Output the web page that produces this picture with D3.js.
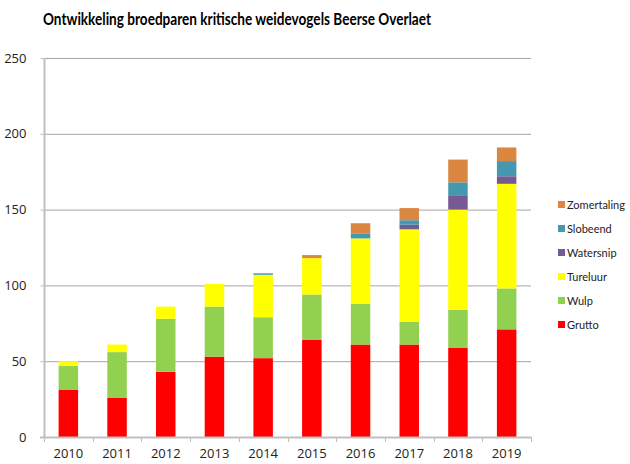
<!DOCTYPE html>
<html><head><meta charset="utf-8">
<script src="https://cdn.jsdelivr.net/npm/d3@7"></script>
<style>body{margin:0;background:#fff}svg{display:block}</style>
</head><body>
<svg id="c" width="630" height="464"></svg>
<script>
const years = ["2010","2011","2012","2013","2014","2015","2016","2017","2018","2019"];
const grutto     = [31, 26, 43, 53, 52, 64, 61, 61, 59, 71];
const wulp       = [16, 30, 35, 33, 27, 30, 27, 15, 25, 27];
const tureluur   = [ 3,  5,  8, 15, 28, 24, 43, 61, 66, 69];
const watersnip  = [ 0,  0,  0,  0,  0,  0,  0,  3,  9,  5];
const slobeend   = [ 0,  0,  0,  0,  1,  0,  3,  3,  9, 10];
const zomertaling= [ 0,  0,  0,  0,  0,  2,  7,  8, 15,  9];
const seriesNames = ["Grutto","Wulp","Tureluur","Watersnip","Slobeend","Zomertaling"];
const seriesColors = ["#FF0000","#92D050","#FFFF00","#775A94","#4499B1","#DC8741"];
const yTicks = [0,50,100,150,200,250];
const title = "Ontwikkeling broedparen kritische weidevogels Beerse Overlaet";

const seriesValues = [grutto, wulp, tureluur, watersnip, slobeend, zomertaling];
const rows = years.map((y,i)=>{const r={year:y}; seriesNames.forEach((s,j)=>r[s]=seriesValues[j][i]); return r;});
const stack = d3.stack().keys(seriesNames)(rows);

const svg = d3.select("#c");
const x0 = 44, x1 = 531, yTop = 58, yBot = 437;
const x = d3.scaleBand().domain(years).range([x0,x1]).paddingInner(0.6).paddingOuter(0.3);
const y = d3.scaleLinear().domain([0,250]).range([yBot,yTop]);

// gridlines
svg.append("g").selectAll("line").data(yTicks.filter(t=>t>0)).join("line")
  .attr("x1",x0).attr("x2",x1).attr("y1",d=>y(d)+0.5).attr("y2",d=>y(d)+0.5)
  .attr("stroke","#A6A6A6").attr("stroke-width",1);

// bars
svg.append("g").selectAll("g").data(stack).join("g")
  .attr("fill",(d,i)=>seriesColors[i])
  .selectAll("rect").data(d=>d).join("rect")
  .attr("x",d=>x(d.data.year)).attr("width",x.bandwidth())
  .attr("y",d=>y(d[1])).attr("height",d=>Math.max(0,y(d[0])-y(d[1])));

// y axis
const yAxis = d3.axisLeft(y).tickValues(yTicks).tickSize(4).tickPadding(8);
const gy = svg.append("g").attr("transform",`translate(${x0+0.5},0)`).call(yAxis);
gy.select(".domain").attr("stroke","#BFBFBF").attr("stroke-width",2).attr("d",`M0,${yTop}V${yBot}`);
gy.selectAll(".tick line").attr("stroke","#BFBFBF").attr("stroke-width",1);
gy.selectAll(".tick text").attr("font-family","Open Sans, sans-serif").attr("font-size",13).attr("fill","#222").attr("dx",-6);

// x axis
const xAxis = d3.axisBottom(x).tickSize(0).tickPadding(12);
const gx = svg.append("g").attr("transform",`translate(0,${yBot})`).call(xAxis);
gx.select(".domain").attr("stroke","#BFBFBF").attr("stroke-width",2).attr("d",`M${x0-4},0.5H${x1}`);
gx.selectAll(".tick text").attr("font-family","Open Sans, sans-serif").attr("font-size",13).attr("fill","#222");
// category boundary ticks
const bounds = d3.range(years.length+1).map(i=>x0 + i*(x1-x0)/years.length);
gx.append("g").selectAll("line").data(bounds).join("line")
  .attr("x1",d=>Math.round(d)+0.5).attr("x2",d=>Math.round(d)+0.5).attr("y1",0).attr("y2",5)
  .attr("stroke","#BFBFBF");

// title
svg.append("text").attr("x",43).attr("y",25).text(title)
  .attr("font-family","Lato, sans-serif").attr("font-weight","bold").attr("font-size",17.5).attr("fill","#000")
  .attr("textLength",388).attr("lengthAdjust","spacingAndGlyphs");

// legend
const legendItems = seriesNames.map((n,i)=>({n,c:seriesColors[i]})).reverse();
const lg = svg.append("g").selectAll("g").data(legendItems).join("g")
  .attr("transform",(d,i)=>`translate(558,${205 + i*24})`);
lg.append("rect").attr("x",0).attr("y",-4).attr("width",7).attr("height",7).attr("fill",d=>d.c);
lg.append("text").attr("x",9).attr("y",4).text(d=>d.n)
  .attr("font-family","Lato, sans-serif").attr("font-size",11).attr("fill","#222");
</script>
</body></html>
